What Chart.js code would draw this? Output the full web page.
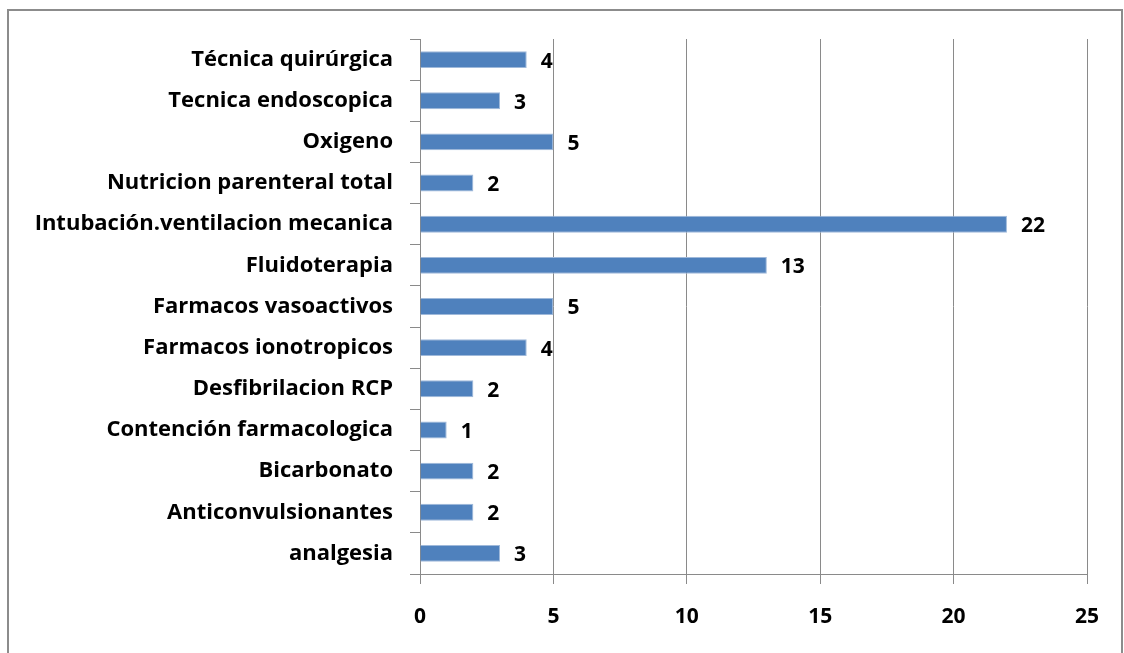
<!DOCTYPE html>
<html>
<head>
<meta charset="utf-8">
<script src="https://cdn.jsdelivr.net/npm/chart.js@4"></script>
<style>
  body { margin: 0; background: #fff; }
  #marco { position: absolute; left: 7px; top: 9px; width: 1116px; height: 660px; border: 2px solid #8c8c8c; box-sizing: border-box; }
  #lienzo { position: absolute; left: 0; top: 0; }
</style>
</head>
<body>
<div id="marco"></div>
<canvas id="lienzo" width="1124" height="653"></canvas>
<script>
const categorias = [
    "Técnica quirúrgica",
    "Tecnica endoscopica",
    "Oxigeno",
    "Nutricion parenteral total",
    "Intubación.ventilacion mecanica",
    "Fluidoterapia",
    "Farmacos vasoactivos",
    "Farmacos ionotropicos",
    "Desfibrilacion RCP",
    "Contención farmacologica",
    "Bicarbonato",
    "Anticonvulsionantes",
    "analgesia"
];
const valores = [4, 3, 5, 2, 22, 13, 5, 4, 2, 1, 2, 2, 3];
const marcasX = [0, 5, 10, 15, 20, 25];

const fuente = { family: "'Open Sans'", size: 22, weight: "bold" };

// Dibuja el valor a la derecha de cada barra
const etiquetasValor = {
    id: "etiquetasValor",
    afterDatasetsDraw(chart) {
        const ctx = chart.ctx;
        const meta = chart.getDatasetMeta(0);
        ctx.save();
        ctx.font = "bold 21px 'Open Sans'";
        ctx.fillStyle = "#000";
        ctx.textAlign = "left";
        ctx.textBaseline = "middle";
        meta.data.forEach((barra, i) => {
            ctx.fillText(String(valores[i]), barra.x + 14, barra.y + 2);
        });
        ctx.restore();
    }
};

const ctx = document.getElementById("lienzo").getContext("2d");
new Chart(ctx, {
    type: "bar",
    data: {
        labels: categorias,
        datasets: [{
            data: valores,
            backgroundColor: "#4F81BD",
            borderColor: "#9fb9da",
            borderWidth: 1,
            barPercentage: 0.82,
            categoryPercentage: 0.5
        }]
    },
    options: {
        indexAxis: "y",
        responsive: false,
        animation: false,
        layout: { padding: { top: 39, right: 37, left: 0, bottom: 0 } },
        plugins: { legend: { display: false }, tooltip: { enabled: false } },
        scales: {
            x: {
                min: 0,
                max: 25,
                afterFit(scale) { scale.height = 79; },
                afterBuildTicks(scale) { scale.ticks = marcasX.map(v => ({ value: v })); },
                grid: { color: "#8a8a8a", lineWidth: 1, tickLength: 10, drawTicks: true },
                border: { color: "#8a8a8a", width: 1 },
                ticks: { color: "#000", font: { family: "'Open Sans'", size: 21, weight: "bold" }, padding: 20 }
            },
            y: {
                afterFit(scale) { scale.width = 420; },
                grid: { drawOnChartArea: false, drawTicks: true, tickLength: 10, color: "#8a8a8a", offset: true },
                border: { color: "#8a8a8a", width: 1 },
                ticks: { color: "#000", font: fuente, padding: 17, autoSkip: false }
            }
        }
    },
    plugins: [etiquetasValor]
});
</script>
</body>
</html>
